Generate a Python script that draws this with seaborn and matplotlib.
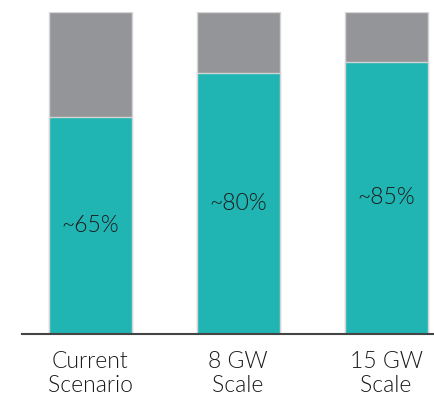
import seaborn as sns
import matplotlib.pyplot as plt
import pandas as pd

categories = ['Current\nScenario', '8 GW\nScale', '15 GW\nScale']
share = [67.4, 81.0, 84.5]
labels = ['~65%', '~80%', '~85%']
total = [100, 100, 100]

teal = '#20b5b2'
grey = '#939598'

sns.set_style('white')
plt.rcParams['font.family'] = ['Lato', 'DejaVu Sans']

df = pd.DataFrame({'cat': categories, 'share': share, 'total': total})

fig = plt.figure(figsize=(4.35, 3.98), dpi=100)
ax = fig.add_axes([22 / 435, 1 - 334 / 398, 1 - 22 / 435, (334 - 12) / 398])

sns.barplot(data=df, x='cat', y='total', color=grey, width=0.56,
            edgecolor='#d4d4d4', linewidth=1, saturation=1, ax=ax)
sns.barplot(data=df, x='cat', y='share', color=teal, width=0.56,
            edgecolor='#d4d4d4', linewidth=1, saturation=1, ax=ax)

for i, (v, t) in enumerate(zip(share, labels)):
    ax.text(i, v / 2, t, ha='center', va='center', fontsize=16.5,
            fontweight=300, color='#1a1a1a')

ax.set_xlim(-0.46, 2.33)
ax.set_ylim(0, 100)
ax.set_xlabel('')
ax.set_ylabel('')
ax.set_yticks([])
ax.tick_params(axis='x', length=0, pad=12)
for lab in ax.get_xticklabels():
    lab.set_fontsize(16.5)
    lab.set_fontweight(300)
    lab.set_color('#1a1a1a')
    lab.set_linespacing(1.2)
for s in ['top', 'right', 'left']:
    ax.spines[s].set_visible(False)
ax.spines['bottom'].set_color('#444444')
ax.spines['bottom'].set_linewidth(1.5)

fig.savefig('out.png', dpi=100)
